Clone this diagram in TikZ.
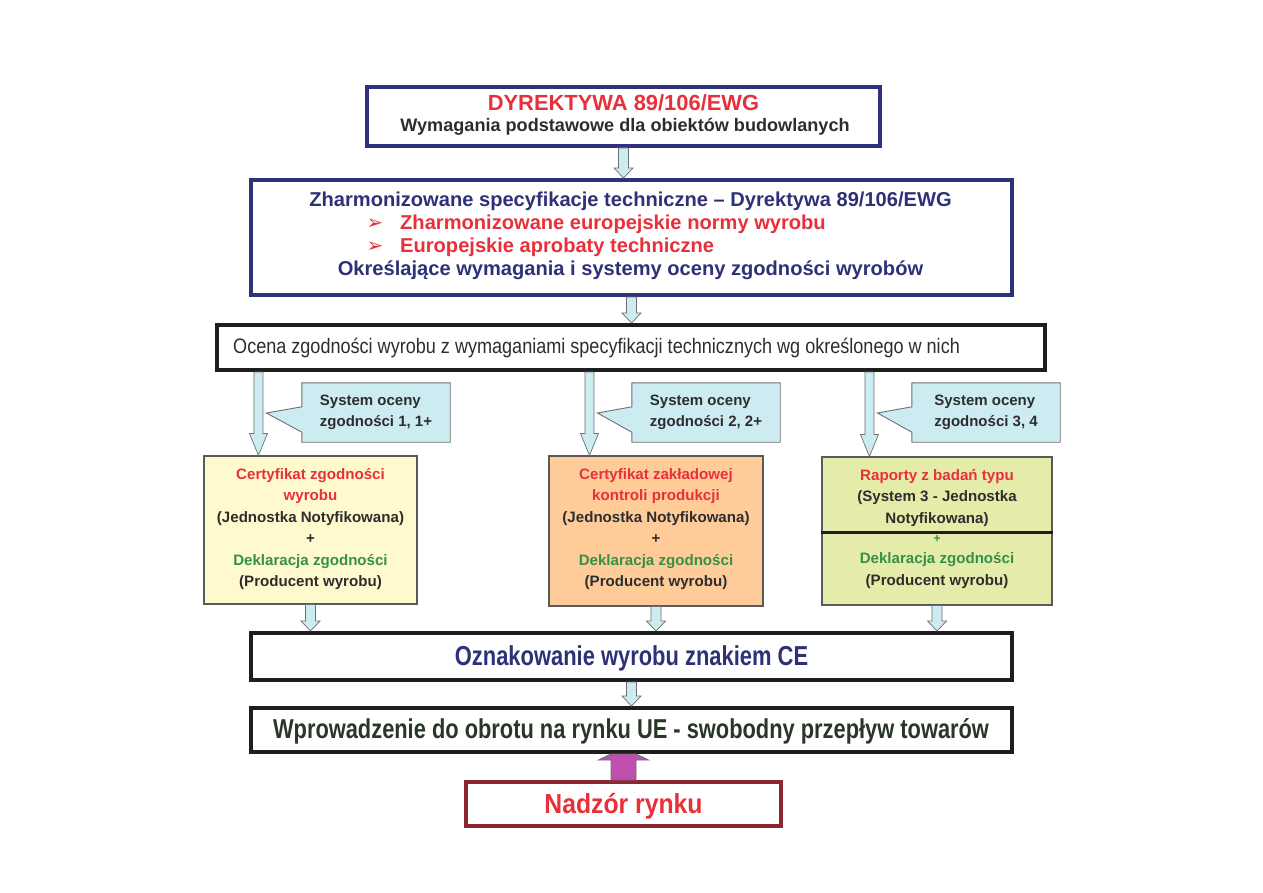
\documentclass[tikz,border=0pt]{standalone}
\usepackage{fontspec}
\setmainfont{Liberation Sans}
\newfontfamily\narrowbf[FakeStretch=0.8]{Liberation Sans Bold}
\newfontfamily\semibf[FakeStretch=0.9]{Liberation Sans Bold}
\newfontfamily\narrowrm[FakeStretch=0.86]{Liberation Sans}
\newfontfamily\symfont{DejaVu Sans}
\usetikzlibrary{calc}
\definecolor{navy}{RGB}{46,49,124}
\definecolor{navytext}{RGB}{46,49,120}
\definecolor{redtxt}{RGB}{232,48,58}
\definecolor{darktxt}{RGB}{45,45,45}
\definecolor{greentxt}{RGB}{52,145,72}
\definecolor{arrfill}{RGB}{205,236,242}
\definecolor{arrline}{RGB}{110,110,115}
\definecolor{fillA}{RGB}{255,250,205}
\definecolor{fillB}{RGB}{255,204,153}
\definecolor{fillC}{RGB}{229,236,170}
\definecolor{magentaf}{RGB}{192,80,176}
\definecolor{nadzor}{RGB}{140,40,50}
\definecolor{uetxt}{RGB}{40,55,40}
\definecolor{blackb}{RGB}{30,30,30}
\definecolor{rowline}{RGB}{90,90,90}
\tikzset{
  mainbox/.style={draw=#1,line width=4pt,fill=white,inner sep=0pt},
  rowbox/.style={draw=rowline,line width=1.1pt,fill=#1,inner sep=0pt},
  barrow/.style={draw=arrline,line width=0.7pt,fill=arrfill},
  marrow/.style={draw=arrline,line width=0.9pt,fill=magentaf},
  callbox/.style={minimum width=148pt,minimum height=59pt,inner sep=0pt,align=left,
    font=\fontsize{15}{21}\selectfont\bfseries,text=darktxt},
  callshape/.style={draw=arrline,line width=0.9pt,fill=arrfill,line join=miter},
  rowtxt/.style={align=center,font=\fontsize{15.1}{21.5}\selectfont\bfseries,inner sep=0pt},
  b2txt/.style={font=\fontsize{20.1}{22}\selectfont\bfseries,inner sep=0pt},
}
% block arrow down: x from #1, top y from #2, bottom y from #3
\newcommand\bdown[3]{%
  \draw[barrow] let \p0=#1, \p1=#2, \p2=#3 in
   (\x0-4.5pt,\y1) -- (\x0+4.5pt,\y1) -- (\x0+4.5pt,\y2+22pt) -- (\x0+9pt,\y2+22pt)
   -- (\x0,\y2) -- (\x0-9pt,\y2+22pt) -- (\x0-4.5pt,\y2+22pt) -- cycle;}
\newcommand\bdownshort[3]{%
  \draw[barrow] let \p0=#1, \p1=#2, \p2=#3 in
   (\x0-5pt,\y1) -- (\x0+5pt,\y1) -- (\x0+5pt,\y2+10pt) -- (\x0+9.5pt,\y2+10pt)
   -- (\x0,\y2) -- (\x0-9.5pt,\y2+10pt) -- (\x0-5pt,\y2+10pt) -- cycle;}
% callout with pointer on the left side
\newcommand\callout[3]{% #1 name, #2 tip, #3 text (node placed before)
  \fill[callshape] (#1.north west) -- (#1.north east) -- (#1.south east) -- (#1.south west)
   -- ([yshift=10pt]#1.south west) -- (#2) -- ([yshift=-24pt]#1.north west) -- cycle;}
\begin{document}
\begin{tikzpicture}[x=1pt,y=-1pt]
\useasboundingbox[fill=white] (0,0) rectangle (1263,893);

% box 1
\node[mainbox=navy,minimum width=513pt,minimum height=59pt] (b1) at (623.5,116.5) {};
\node[text=redtxt,font=\fontsize{21.9}{24}\selectfont\bfseries,inner sep=0pt] (t1a) at (623.5,103) {DYREKTYWA 89/106/EWG};
\node[text=darktxt,font=\fontsize{18.1}{20}\selectfont\bfseries,inner sep=0pt] (t1b) at (625,127) {Wymagania podstawowe dla obiektów budowlanych};

% box 2
\node[mainbox=navy,minimum width=761pt,minimum height=115pt] (b2) at (631.5,237.5) {};
\node[b2txt,text=navytext] (t2a) at (630.5,201) {Zharmonizowane specyfikacje techniczne – Dyrektywa 89/106/EWG};
\node[b2txt,text=redtxt,anchor=west] (t2b) at (400,224) {Zharmonizowane europejskie normy wyrobu};
\node[b2txt,text=redtxt,anchor=west] (t2c) at (400,247) {Europejskie aprobaty techniczne};
\node[text=redtxt,font=\fontsize{20}{22}\symfont,inner sep=0pt] (bu1) at (375,224) {➢};
\node[text=redtxt,font=\fontsize{20}{22}\symfont,inner sep=0pt] (bu2) at (375,247) {➢};
\node[b2txt,text=navytext] (t2d) at (630.5,270) {Określające wymagania i systemy oceny zgodności wyrobów};

% box 3
\node[mainbox=blackb,minimum width=828pt,minimum height=45pt] (b3) at (631,347.5) {};
\node[text=darktxt,font=\fontsize{21}{22}\narrowrm,inner sep=0pt,anchor=west] (t3) at (233,348) {Ocena zgodności wyrobu z wymaganiami specyfikacji technicznych wg określonego w nich};

% row boxes
\node[rowbox=fillA,minimum width=213pt,minimum height=148pt] (bA) at (310.5,530) {};
\node[rowbox=fillB,minimum width=214pt,minimum height=150pt] (bB) at (656,531) {};
\node[rowbox=fillC,minimum width=230pt,minimum height=148pt] (bC) at (937,531) {};

\node[rowtxt] (tA) at (310.5,529) {\textcolor{redtxt}{Certyfikat zgodności}\\\textcolor{redtxt}{wyrobu}\\\textcolor{darktxt}{(Jednostka Notyfikowana)}\\\textcolor{darktxt}{+}\\\textcolor{greentxt}{Deklaracja zgodności}\\\textcolor{darktxt}{(Producent wyrobu)}};
\node[rowtxt] (tB) at (656,529) {\textcolor{redtxt}{Certyfikat zakładowej}\\\textcolor{redtxt}{kontroli produkcji}\\\textcolor{darktxt}{(Jednostka Notyfikowana)}\\\textcolor{darktxt}{+}\\\textcolor{greentxt}{Deklaracja zgodności}\\\textcolor{darktxt}{(Producent wyrobu)}};
\node[rowtxt] (tC1) at (937,498) {\textcolor{redtxt}{Raporty z badań typu}\\\textcolor{darktxt}{(System 3 - Jednostka}\\\textcolor{darktxt}{Notyfikowana)}};
\draw[blackb,line width=3pt] (bC.west |- 0,532) -- (bC.east |- 0,532);
\node[text=greentxt,font=\fontsize{12}{14}\selectfont\bfseries,inner sep=0pt] (tCp) at (937,539) {+};
\node[rowtxt] (tC2) at (937,570.5) {\textcolor{greentxt}{Deklaracja zgodności}\\\textcolor{darktxt}{(Producent wyrobu)}};

% box CE
\node[mainbox=blackb,minimum width=761pt,minimum height=47pt] (bCE) at (631.5,656.5) {};
\node[text=navytext,font=\fontsize{27.4}{30}\narrowbf,inner sep=0pt] (tCE) at (631.5,658) {Oznakowanie wyrobu znakiem CE};

% box UE
\node[mainbox=blackb,minimum width=761pt,minimum height=44pt] (bUE) at (631.5,730) {};
\node[text=uetxt,font=\fontsize{27.3}{30}\narrowbf,inner sep=0pt] (tUE) at (631,731) {Wprowadzenie do obrotu na rynku UE - swobodny przepływ towarów};

% Nadzor
\node[mainbox=nadzor,minimum width=315pt,minimum height=44pt] (bN) at (623.5,804) {};
\node[text=redtxt,font=\fontsize{27.5}{30}\semibf,inner sep=0pt] (tN) at (623.5,806) {Nadzór rynku};

% arrows between main boxes
\bdownshort{(b1.south)}{(b1.south)}{(b2.north)}
\bdownshort{(b2.south)}{(b2.south)}{(b3.north)}
\bdownshort{(bCE.south)}{(bCE.south)}{(bUE.north)}

% arrows from box 3 to row boxes
\coordinate (xa) at ([xshift=55pt]bA.north west);
\coordinate (xb) at ([xshift=41pt]bB.north west);
\coordinate (xc) at ([xshift=48pt]bC.north west);
\bdown{(xa)}{(b3.south)}{(bA.north)}
\bdown{(xb)}{(b3.south)}{(bB.north)}
\bdown{(xc)}{(b3.south)}{(bC.north)}

% arrows from row boxes to CE
\bdownshort{(bA.south)}{(bA.south)}{(bCE.north)}
\bdownshort{(bB.south)}{(bB.south)}{(bCE.north)}
\bdownshort{(bC.south)}{(bC.south)}{(bCE.north)}

% magenta up arrow
\draw[marrow] let \p1=(bN.north), \p2=(bUE.south) in
  (\x1-12.5pt,\y1) -- (\x1+12.5pt,\y1) -- (\x1+12.5pt,\y2-6pt) -- (\x1+25pt,\y2-6pt)
  -- (\x1+12.5pt,\y2) -- (\x1-12.5pt,\y2) -- (\x1-25pt,\y2-6pt) -- (\x1-12.5pt,\y2-6pt) -- cycle;

% callouts
\coordinate (pa) at ([xshift=8pt]xa |- 0,413);
\coordinate (pb) at ([xshift=8pt]xb |- 0,413);
\coordinate (pc) at ([xshift=8pt]xc |- 0,413);
\node[callbox] (cA) at (376,412.5) {};
\node[callbox] (cB) at (706,412.5) {};
\node[callbox] (cC) at (986,412.5) {};
\callout{cA}{pa}{}
\callout{cB}{pb}{}
\callout{cC}{pc}{}
\node[callbox] (cAt) at (cA) {System oceny\\zgodności 1, 1+};
\node[callbox] (cBt) at (cB) {System oceny\\zgodności 2, 2+};
\node[callbox] (cCt) at (cC) {System oceny\\zgodności 3, 4};
\end{tikzpicture}
\end{document}
